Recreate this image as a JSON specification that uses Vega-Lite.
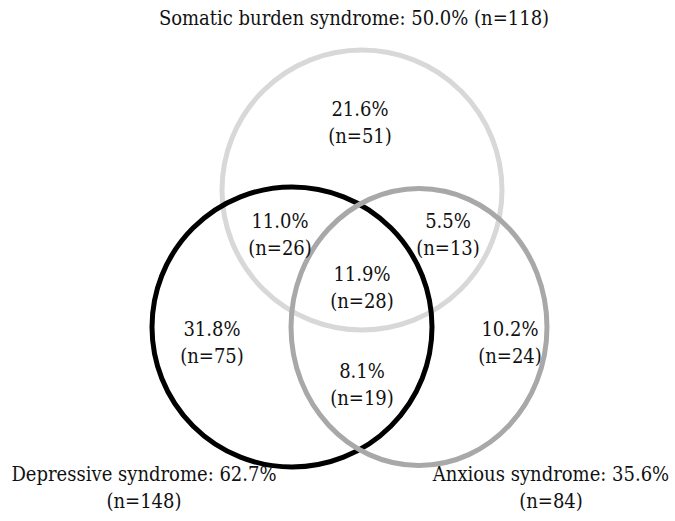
{
  "$schema": "https://vega.github.io/schema/vega-lite/v6.json",
  "width": 675,
  "height": 521,
  "autosize": {"type": "fit", "contains": "padding"},
  "padding": 0,
  "background": "white",
  "config": {"view": {"stroke": null}},
  "layer": [
    {
      "data": {"values": [
        {"set": "Somatic burden syndrome", "cx": 362, "cy": 190},
        {"set": "Depressive syndrome", "cx": 292, "cy": 327}
      ]},
      "mark": {"type": "point", "shape": "circle", "filled": false, "strokeWidth": 5, "opacity": 1},
      "encoding": {
        "x": {"field": "cx", "type": "quantitative", "scale": {"domain": [0, 675], "nice": false}, "axis": null},
        "y": {"field": "cy", "type": "quantitative", "scale": {"domain": [0, 521], "nice": false, "reverse": true}, "axis": null},
        "size": {"value": 78400},
        "color": {"field": "set", "type": "nominal", "legend": null,
          "scale": {"domain": ["Somatic burden syndrome", "Depressive syndrome", "Anxious syndrome"], "range": ["#d8d8d8", "#000000", "#a8a8a8"]}}
      }
    },
    {
      "data": {"values": [
        {"set": "Anxious syndrome", "cx": 419, "cy": 327}
      ]},
      "mark": {"type": "point", "shape": "M -0.924 0 A 0.924 1 0 1 0 0.924 0 A 0.924 1 0 1 0 -0.924 0 Z", "filled": false, "strokeWidth": 5, "opacity": 1},
      "encoding": {
        "x": {"field": "cx", "type": "quantitative"},
        "y": {"field": "cy", "type": "quantitative"},
        "size": {"value": 76729},
        "color": {"field": "set", "type": "nominal", "legend": null}
      }
    },
    {
      "data": {"values": [
        {"label": "Somatic burden syndrome: 50.0% (n=118)", "tx": 354, "ty": 19},
        {"label": "21.6%\n(n=51)", "tx": 360, "ty": 110},
        {"label": "11.0%\n(n=26)", "tx": 280, "ty": 222},
        {"label": "5.5%\n(n=13)", "tx": 448, "ty": 222},
        {"label": "11.9%\n(n=28)", "tx": 362, "ty": 275},
        {"label": "31.8%\n(n=75)", "tx": 212, "ty": 330},
        {"label": "8.1%\n(n=19)", "tx": 362, "ty": 372},
        {"label": "10.2%\n(n=24)", "tx": 510, "ty": 330},
        {"label": "Depressive syndrome: 62.7%\n(n=148)", "tx": 144, "ty": 475},
        {"label": "Anxious syndrome: 35.6%\n(n=84)", "tx": 551, "ty": 475}
      ]},
      "mark": {"type": "text", "font": "'DejaVu Serif Condensed', 'DejaVu Serif'", "fontSize": 20, "color": "#111111", "lineBreak": "\n", "lineHeight": 27, "align": "center", "baseline": "middle"},
      "encoding": {
        "x": {"field": "tx", "type": "quantitative"},
        "y": {"field": "ty", "type": "quantitative"},
        "text": {"field": "label"}
      }
    }
  ]
}
